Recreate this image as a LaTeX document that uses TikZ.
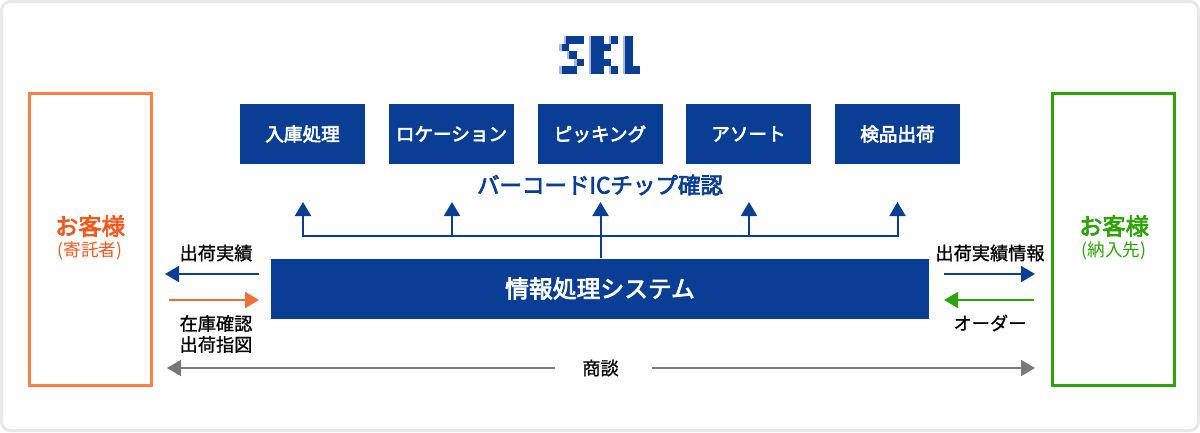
\documentclass[tikz,border=0pt]{standalone}
\usepackage{fontspec}
\setmainfont{Noto Sans CJK JP}
\newfontfamily\cjkmed[FakeBold=1]{Noto Sans CJK JP}
\newfontfamily\cjkhead[FakeBold=3.2]{Noto Sans CJK JP}
\usetikzlibrary{arrows.meta}

\definecolor{sklblue}{RGB}{10, 62, 148}
\definecolor{sklpale}{RGB}{170, 185, 225}
\definecolor{clientorange}{RGB}{255, 125, 70}
\definecolor{clientorangetext}{RGB}{245, 88, 30}
\definecolor{arroworange}{RGB}{240, 110, 55}
\definecolor{clientgreen}{RGB}{45, 163, 8}
\definecolor{talkgray}{RGB}{120, 120, 120}
\definecolor{framegray}{RGB}{232, 232, 232}

\tikzset{
	procbox/.style={fill=sklblue, text=white, font=\cjkhead\fontsize{18.6}{18.6}\selectfont, minimum width=125pt, minimum height=60pt, inner sep=0pt},
	clientbox/.style={draw=#1, line width=3pt, fill=white, minimum width=122pt, minimum height=292pt, inner sep=0pt},
	flowlabel/.style={font=\cjkmed\fontsize{18.2}{21}\selectfont, text=black, inner sep=0pt, align=center},
	flow/.style={draw=#1, line width=2pt, -{Triangle[length=14pt,width=16pt,fill=#1]}},
}

\begin{document}
\begin{tikzpicture}[x=1pt, y=-1pt]
	\useasboundingbox (0,0) rectangle (1200,432);
	
	% Rahmen
	\draw[framegray, line width=3pt, rounded corners=9pt] (1.5,1.5) rectangle (1198.5,430.5);
	
	% Logo
	\foreach \x/\y/\w in {566/36/18, 561.5/43.5/7.5, 569/51/7.5, 576.5/58.5/7.5, 561.5/66/15,
		604/43.5/7, 611/36/7, 604/58.5/7, 611/66/7, 591/36/12.5, 591/43.5/12.5, 591/51/12.5, 591/58.5/12.5, 591/66/12.5,
		625/36/7.5, 625/43.5/7.5, 625/51/7.5, 625/58.5/7.5, 625/66/15}
	{
		\fill[sklpale] (\x-2.5,\y) rectangle (\x,\y+7.5);
		\fill[sklblue] (\x,\y) rectangle (\x+\w,\y+7.5);
	}
	
	% Kunden
	\node[clientbox=clientorange] (sender) at (90.5,239.5) {};
	\node[clientbox=clientgreen] (receiver) at (1113.5,239.5) {};
	\node[text=clientorangetext, font=\cjkhead\fontsize{23.3}{23.3}\selectfont, inner sep=0pt] (sendername) at (90,226) {お客様};
	\node[text=clientorangetext, font=\fontsize{17.6}{17.6}\selectfont, inner sep=0pt] (sendernote) at (90,251) {(寄託者)};
	\node[text=clientgreen, font=\cjkhead\fontsize{23.3}{23.3}\selectfont, inner sep=0pt] (receivername) at (1114,226) {お客様};
	\node[text=clientgreen, font=\fontsize{17.6}{17.6}\selectfont, inner sep=0pt] (receivernote) at (1114,251) {(納入先)};
	
	% Arbeitsschritte
	\node[procbox] (inbound) at (302.5,134) {入庫処理};
	\node[procbox] (location) at (451.5,134) {ロケーション};
	\node[procbox] (picking) at (600,134) {ピッキング};
	\node[procbox] (assort) at (748.5,134) {アソート};
	\node[procbox] (inspect) at (897.5,134) {検品出荷};
	\node[text=sklblue, font=\cjkhead\fontsize{22.5}{22.5}\selectfont, inner sep=0pt] (barcode) at (600,185) {バーコードICチップ確認};
	
	% System
	\node[procbox, minimum width=658pt, font=\cjkhead\fontsize{23.8}{23.8}\selectfont] (system) at (600,288.5) {情報処理システム};
	
	% Verteiler
	\coordinate (busa) at (303,236);
	\coordinate (busb) at (452,236);
	\coordinate (busd) at (749,236);
	\coordinate (buse) at (897.5,236);
	\coordinate (tipa) at (303,202);
	\coordinate (tipb) at (452,202);
	\coordinate (tipc) at (600.5,202);
	\coordinate (tipd) at (749,202);
	\coordinate (tipe) at (897.5,202);
	\draw[sklblue, line width=2pt, line cap=rect] (busa) -- (buse);
	\foreach \n in {a,b,d,e}
		\draw[flow=sklblue] (bus\n) -- (tip\n);
	\draw[flow=sklblue] (system.north -| tipc) -- (tipc);
	
	% Links
	\coordinate (outa) at (259,274);
	\coordinate (outb) at (165,274);
	\coordinate (ina) at (169,300);
	\coordinate (inb) at (259,300);
	\draw[flow=sklblue] (outa) -- (outb);
	\draw[flow=arroworange] (ina) -- (inb);
	\node[flowlabel] (shipped) at (216,253) {出荷実績};
	\node[flowlabel] (stockcheck) at (216,334) {在庫確認\\出荷指図};
	
	% Rechts
	\coordinate (repa) at (944,274);
	\coordinate (repb) at (1035,274);
	\coordinate (orda) at (1034,300);
	\coordinate (ordb) at (944,300);
	\draw[flow=sklblue] (repa) -- (repb);
	\draw[flow=clientgreen] (orda) -- (ordb);
	\node[flowlabel] (shipinfo) at (990,253) {出荷実績情報};
	\node[flowlabel] (order) at (990,323) {オーダー};
	
	% Unten
	\node[flowlabel] (talk) at (600.5,368) {商談};
	\coordinate (talkl) at (167,368);
	\coordinate (talkla) at (555,368);
	\coordinate (talkr) at (1035,368);
	\coordinate (talkra) at (652,368);
	\draw[flow=talkgray] (talkla) -- (talkl);
	\draw[flow=talkgray] (talkra) -- (talkr);
\end{tikzpicture}
\end{document}
